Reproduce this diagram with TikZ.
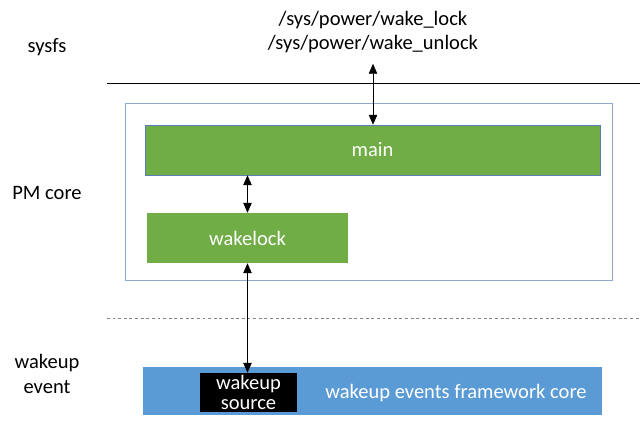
\documentclass[tikz,border=0pt]{standalone}
\usepackage{fontspec}
\setmainfont{Carlito}
\usetikzlibrary{arrows.meta}
\definecolor{pmgreen}{HTML}{70AD47}
\definecolor{evblue}{HTML}{5B9BD5}
\definecolor{frameblue}{HTML}{8FAACC}
\definecolor{mainedge}{HTML}{5A7FB8}
\tikzset{
    blockbox/.style={fill=pmgreen,text=white,minimum height=1.25cm},
    layertext/.style={align=center,text=black},
    biarrow/.style={{Triangle[width=6pt,length=7pt]}-{Triangle[width=6pt,length=7pt]},black,thin},
}
\begin{document}
\begin{tikzpicture}[x=0.025cm,y=-0.025cm,font=\fontsize{14.6}{17.7}\selectfont]
\useasboundingbox (0,0) rectangle (640,431);
    %Capas
    \node[layertext] (sysfs) at (47,47) {sysfs};
    \node[layertext] (pmcore) at (47,193) {PM core};
    \node[layertext] (wakeupev) at (47,374) {wakeup\\event};
    \draw[black,thin] (107,83) -- (640,83);
    \draw[gray,thin,dash pattern=on 2pt off 2pt] (107,318) -- (640,318);

    %Nodos
    \node[layertext] (paths) at (373,32) {/sys/power/wake\_lock\\/sys/power/wake\_unlock};
    \node[draw=frameblue,thin,minimum width=12.175cm,minimum height=4.425cm] (pmframe) at (368.5,191.5) {};
    \node[blockbox,draw=mainedge,thin,minimum width=11.375cm] (main) at (372.5,150) {main};
    \node[blockbox,minimum width=5.025cm] (wakelock) at (247.5,238) {wakelock};
    \node[fill=evblue,minimum width=11.475cm,minimum height=1.2cm] (evcore) at (372.5,391) {};
    \node[fill=black,text=white,align=center,inner sep=0pt,minimum width=2.425cm,minimum height=0.975cm] (source) at (248.5,392.5) {wakeup\\[-3pt]source};
    \node[text=white] (evtext) at (456,393) {wakeup events framework core};

    %Flechas
    \draw[biarrow] ([yshift=-4pt]paths.south) -- (paths.south |- main.north);
    \draw[biarrow] (wakelock.north |- main.south) -- (wakelock.north);
    \draw[biarrow] (wakelock.south) -- (wakelock.south |- source.north);
\end{tikzpicture}
\end{document}
